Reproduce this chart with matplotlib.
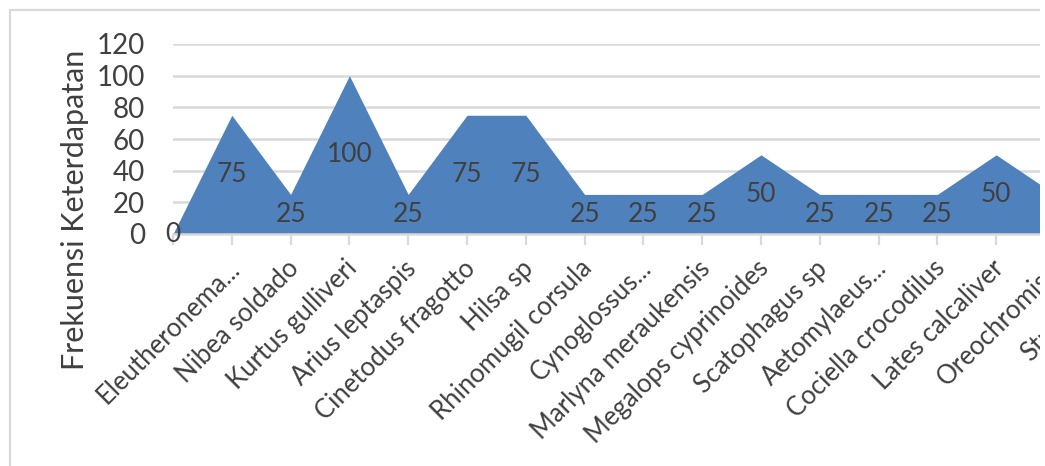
import matplotlib.pyplot as plt
from matplotlib.patches import Rectangle
from matplotlib.transforms import ScaledTranslation
import numpy as np

species = ['', 'Eleutheronema...', 'Nibea soldado', 'Kurtus gulliveri',
           'Arius leptaspis', 'Cinetodus fragotto', 'Hilsa sp',
           'Rhinomugil corsula', 'Cynoglossus...', 'Marlyna meraukensis',
           'Megalops cyprinoides', 'Scatophagus sp', 'Aetomylaeus...',
           'Cociella crocodilus', 'Lates calcaliver', 'Oreochromis...',
           'Strongylura']
frekuensi = [0, 75, 25, 100, 25, 75, 75, 25, 25, 25, 50, 25, 25, 25, 50, 25, 25]
y_ticks = [0, 20, 40, 60, 80, 100, 120]

W, H = 1045, 466
txt = '#404040'
grid = '#d9d9d9'
plt.rcParams['font.family'] = ['Lato', 'DejaVu Sans']

fig = plt.figure(figsize=(W / 100, H / 100), dpi=100)

# chart area frame (runs off the picture on the right and bottom)
fig.add_artist(Rectangle((10 / W, -0.1), 1.2, (H - 10) / H + 0.1,
                         transform=fig.transFigure, fill=False,
                         edgecolor=grid, lw=1.6))

step = 58.8
x0, y0, y1 = 173, 234, 44
ax = fig.add_axes([x0 / W, (H - y0) / H, step * len(species) / W, (y0 - y1) / H])

x = np.arange(len(species))
ax.fill_between(x, frekuensi, color='#4f81bd', lw=0, zorder=2)
ax.set_xlim(0, len(species))
ax.set_ylim(0, 120)

for xi, v in zip(x, frekuensi):
    ax.text(xi, v / 2, str(v), ha='center', va='center', fontsize=19,
            color=txt, zorder=3)

ax.set_yticks(y_ticks)
ax.set_yticklabels([str(t) for t in y_ticks], fontsize=20, color=txt)
ax.tick_params(axis='y', length=0, pad=20)
ax.yaxis.grid(True, color=grid, lw=1.8)
ax.set_axisbelow(True)

ax.set_xticks(x)
ax.set_xticklabels(species, fontsize=18.5, color=txt, rotation=45,
                   ha='right', va='center', rotation_mode='anchor')
ax.tick_params(axis='x', length=8, width=1.6, color=grid, pad=14)
off = ScaledTranslation(4 / 100, 0, fig.dpi_scale_trans)
for lab in ax.get_xticklabels():
    lab.set_transform(lab.get_transform() + off)

for s in ['left', 'right', 'top']:
    ax.spines[s].set_visible(False)
ax.spines['bottom'].set_color(grid)
ax.spines['bottom'].set_linewidth(1.8)

fig.text(75 / W, 1 - 210 / H, 'Frekuensi Keterdapatan', rotation=90,
         ha='center', va='center', fontsize=22, color=txt)

# picture is cropped at x = 1040
fig.add_artist(Rectangle((1040 / W, 0), 1, 1, transform=fig.transFigure,
                         facecolor='white', edgecolor='none', zorder=20))

fig.savefig('out.png', dpi=100)
